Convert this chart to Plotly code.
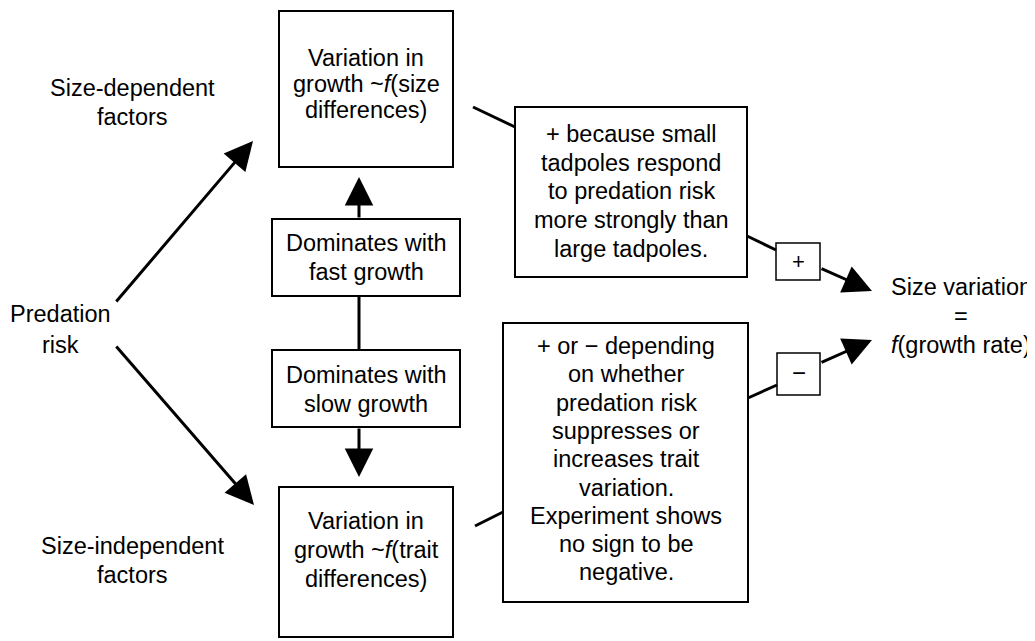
"""Predation risk and size variation: conceptual diagram."""
import plotly.graph_objects as go

# text content of the diagram
TOP_BOX_LINES = ["Variation in", "growth ~<i>f</i>(size", "differences)"]
BOTTOM_BOX_LINES = ["Variation in", "growth ~<i>f</i>(trait", "differences)"]
FAST_BOX_LINES = ["Dominates with", "fast growth"]
SLOW_BOX_LINES = ["Dominates with", "slow growth"]
PLUS_NOTE_LINES = ["+ because small", "tadpoles respond", "to predation risk",
                   "more strongly than", "large tadpoles."]
SIGN_NOTE_LINES = ["+ or \u2212 depending", "on whether", "predation risk",
                   "suppresses or", "increases trait", "variation.",
                   "Experiment shows", "no sign to be", "negative."]
UPPER_FACTOR_LINES = ["Size-dependent", "factors"]
LOWER_FACTOR_LINES = ["Size-independent", "factors"]
SOURCE_LINES = ["Predation", "risk"]
OUTCOME_LINES = ["Size variation", "=", "<i>f</i>(growth rate)"]
SIGNS = ["+", "\u2212"]

FONT = "Liberation Sans, Arial, Helvetica, sans-serif"
W, H = 1035, 641
PAGE_OFFSET = 8  # default body margin of the html page

fig = go.Figure()


def add_box(x0, y0, x1, y1, width=2):
    fig.add_shape(type="rect", x0=x0, y0=y0, x1=x1, y1=y1,
                  line=dict(color="black", width=width), fillcolor="white",
                  layer="below")


def add_line(x0, y0, x1, y1, width=3):
    fig.add_shape(type="line", x0=x0, y0=y0, x1=x1, y1=y1,
                  line=dict(color="black", width=width))


def add_arrow(x0, y0, x1, y1):
    fig.add_annotation(x=x1, y=y1, ax=x0, ay=y0, xref="x", yref="y",
                       axref="x", ayref="y", text="", showarrow=True,
                       arrowhead=2, arrowsize=1.9, arrowwidth=3,
                       arrowcolor="black")


def add_lines(lines, cx, y_first, step=28.5, size=23.5):
    for i, txt in enumerate(lines):
        fig.add_annotation(x=cx, y=y_first + i * step, xref="x", yref="y",
                           text=txt, showarrow=False, xanchor="center",
                           yanchor="middle",
                           font=dict(family=FONT, size=size, color="black"))


# boxes
add_box(279, 11, 453, 167)
add_box(279, 487, 453, 637)
add_box(272, 219, 460, 296)
add_box(272, 350, 460, 427)
add_box(515, 107, 747, 277)
add_box(503, 323, 748, 602)
add_box(776, 243, 820, 280, width=1.5)
add_box(777, 353, 820, 395, width=1.5)

# connectors
add_line(359, 296, 359, 350)
add_line(473, 107, 515, 127)
add_line(747, 236, 776, 250)
add_line(475, 526, 503, 512)
add_line(748, 398, 777, 385)

# arrows
add_arrow(115, 303, 253, 141)
add_arrow(115, 345, 254, 505)
add_arrow(359, 219, 359, 177)
add_arrow(359, 427, 359, 477)
add_arrow(820, 268, 872, 291)
add_arrow(820, 363, 872, 340)

# text
add_lines(TOP_BOX_LINES, 366, 58, step=26)
add_lines(BOTTOM_BOX_LINES, 366, 521, step=29)
add_lines(FAST_BOX_LINES, 366, 243, step=29)
add_lines(SLOW_BOX_LINES, 366, 375, step=29)
add_lines(PLUS_NOTE_LINES, 631, 134, step=28.7)
add_lines(SIGN_NOTE_LINES, 626, 346, step=28.3)
add_lines(UPPER_FACTOR_LINES, 132, 88, step=29)
add_lines(LOWER_FACTOR_LINES, 132, 546, step=29)
add_lines(SOURCE_LINES, 60, 314, step=31)
add_lines(OUTCOME_LINES, 961, 287, step=29)
add_lines([SIGNS[0]], 798, 261, size=22)
add_lines([SIGNS[1]], 798.5, 372, size=24)

# the figure sits 8 px in from the page corner, so shrink it by that much
# and shift the ranges so data units equal screen pixels
fig.update_layout(
    width=W - PAGE_OFFSET, height=H - PAGE_OFFSET,
    margin=dict(l=0, r=0, t=0, b=0),
    paper_bgcolor="white", plot_bgcolor="white",
    xaxis=dict(range=[PAGE_OFFSET, W], visible=False, fixedrange=True),
    yaxis=dict(range=[H, PAGE_OFFSET], visible=False, fixedrange=True),
    showlegend=False,
)

fig.write_html("out.html")
